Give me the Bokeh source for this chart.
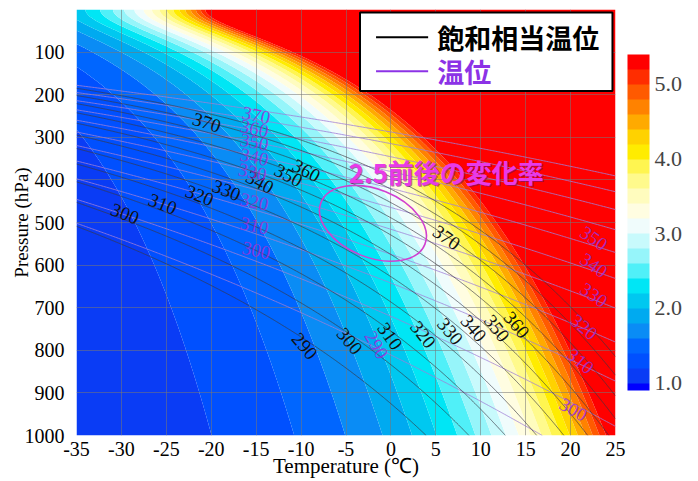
import numpy as np
from bokeh.plotting import figure
from bokeh.models import (Range1d, ColumnDataSource, LinearColorMapper, ColorBar,
                          FixedTicker, NumeralTickFormatter)
from bokeh.core.properties import value
from bokeh.embed import file_html
from bokeh.resources import INLINE

# ---------------- data ----------------
X_TICKS = [-35, -30, -25, -20, -15, -10, -5, 0, 5, 10, 15, 20, 25]
Y_TICKS = [100, 200, 300, 400, 500, 600, 700, 800, 900, 1000]
CBAR_TICKS = [1.0, 2.0, 3.0, 4.0, 5.0]
FILL_LEVELS = [1.0, 1.2, 1.4, 1.6, 1.8, 2.0, 2.2, 2.4, 2.6, 2.8, 3.0,
               3.2, 3.4, 3.6, 3.8, 4.0, 4.2, 4.4, 4.6, 4.8, 5.0, 5.2]
THETAE_LEVELS = [290, 300, 310, 320, 330, 340, 350, 360, 370, 380, 390]
THETA_LEVELS = [290, 300, 310, 320, 330, 340, 350, 360, 370, 380, 390]

black_lab_text = ["300", "310", "320", "330", "340", "350", "360", "370",
                  "290", "300", "310", "320", "330", "340", "350", "360", "370"]
black_lab_T = [-29.6, -25.4, -21.3, -18.3, -14.6, -11.4, -9.4, -20.5,
               -9.6, -4.6, -0.1, 3.6, 6.6, 9.2, 11.8, 14.0, 6.2]
black_lab_p = [479, 456, 436, 424, 405, 389, 378, 265,
               790, 778, 767, 763, 755, 748, 748, 740, 535]
black_lab_ang = [-22, -22, -22, -22, -28, -28, -28, -18,
                 -50, -50, -55, -52, -50, -50, -52, -50, -35]

purple_lab_text = ["370", "360", "350", "340", "330", "320", "310", "300",
                   "290", "350", "340", "330", "320", "310", "300"]
purple_lab_T = [-15.0, -15.2, -15.2, -15.2, -15.4, -15.2, -15.2, -15.0,
                -1.6, 22.6, 22.6, 22.6, 21.5, 21.1, 20.3]
purple_lab_p = [248, 279, 311, 346, 381, 451, 507, 565,
                787, 537, 600, 670, 745, 825, 939]
purple_lab_ang = [-12, -12, -12, -12, -12, -12, -12, -12,
                  -60, -35, -35, -35, -40, -40, -30]

ellipse_T = [-2.0]
ellipse_p = [502]

LEGEND_LABELS = ["飽和相当温位", "温位"]
NOTE_TEXT = "2.5前後の変化率"

# physical constants
KAPPA, LV, CP, RV, EPS = 0.2857, 2.5e6, 1004.0, 461.5, 0.622
P_SCALE, P_FLOOR = 0.85, 55.0

# ---------------- fields ----------------
T_axis = np.linspace(-35, 25, 361)
P_axis = np.linspace(0, 1000, 401)
TT, PP = np.meshgrid(T_axis, P_axis)
Tk = TT + 273.15
es = 6.112 * np.exp(17.67 * TT / (TT + 243.5))
dlnes = 17.67 * 243.5 / (TT + 243.5) ** 2

Peff = P_SCALE * np.sqrt(PP ** 2 + P_FLOOR ** 2)
den = np.maximum(Peff - es, 1e-3)
r = EPS * es / den
drdT = r * dlnes * Peff / den
drT = drdT / Tk - r / Tk ** 2
ratio = np.exp(LV / CP * r / Tk) * (1 + LV / CP * Tk * drT)
ratio = np.clip(np.nan_to_num(ratio, nan=50.0), 0.5, 50.0)

Pt = np.maximum(PP, 0.5)
den2 = Pt - es
theta = Tk * (1000.0 / Pt) ** KAPPA
r2 = EPS * es / np.maximum(den2, 1e-3)
thetae = theta * np.exp(np.minimum(LV / CP * r2 / Tk, 5.0))
thetae = np.where(den2 > 1e-3, thetae, 5000.0)
thetae = np.clip(thetae, 0, 5000.0)
theta = np.clip(theta, 0, 5000.0)

PALETTE = ["#0000ff", "#0a3cf5", "#0050ff", "#0066ff", "#0a8cf5", "#00aaf0",
           "#00c8f0", "#00e6f5", "#50f0f8", "#96f5fa", "#c8fafc", "#f0fcfc",
           "#fffde1", "#fffcbe", "#fffa8c", "#fff550", "#ffec00", "#ffd200",
           "#ffaa00", "#ff8200", "#ff5a00", "#ff2d00", "#ff0000"]
# colour bar palette in 0.1 steps from 0.9 to 5.4 (same bands as the fill)
CB_PALETTE = [PALETTE[0]] + [c for c in PALETTE[1:] for _ in (0, 1)]

# ---------------- figure ----------------
SERIF = "Liberation Serif"
CJK = "Noto Sans CJK JP"

p = figure(width=697, height=480, output_backend="svg", toolbar_location=None,
           x_range=Range1d(-35, 25), y_range=Range1d(1000, 0),
           min_border_left=76, min_border_right=82, min_border_top=9, min_border_bottom=30)
p.outline_line_color = None

levels_all = [-10.0] + FILL_LEVELS + [1000.0]
cf = p.contour(T_axis, P_axis, ratio, levels_all, fill_color=PALETTE, line_color=None)
cf.level = "image"

p.contour(T_axis, P_axis, theta, THETA_LEVELS, line_color="#a080d8", line_width=0.9, line_alpha=0.9)
p.contour(T_axis, P_axis, thetae, THETAE_LEVELS, line_color="#3a3a44", line_width=0.85, line_alpha=0.8)

# grid / axes
p.xaxis.ticker = FixedTicker(ticks=X_TICKS)
p.yaxis.ticker = FixedTicker(ticks=Y_TICKS)
p.xaxis.major_label_overrides = {t: str(t) for t in X_TICKS}
p.grid.grid_line_color = "#777777"
p.grid.grid_line_width = 0.8
p.grid.grid_line_alpha = 0.7

for ax in (p.xaxis[0], p.yaxis[0]):
    ax.major_label_text_font = SERIF
    ax.major_label_text_font_size = "20px"
    ax.major_label_text_color = "black"
    ax.axis_label_text_font = SERIF
    ax.axis_label_text_font_style = "normal"
    ax.axis_label_text_color = "black"
    ax.major_tick_line_color = None
    ax.minor_tick_line_color = None
    ax.axis_line_color = None
p.xaxis.axis_label = "Temperature (℃)"
p.yaxis.axis_label = "Pressure (hPa)"
p.xaxis.axis_label_text_font_size = "21px"
p.yaxis.axis_label_text_font_size = "19px"
p.xaxis.major_label_standoff = 0
p.xaxis.axis_label_standoff = -5
p.yaxis.major_label_standoff = 6
p.yaxis.axis_label_standoff = -10

# contour labels
bsrc = ColumnDataSource(dict(x=black_lab_T, y=black_lab_p, t=black_lab_text, a=black_lab_ang))
p.text(x="x", y="y", text="t", angle="a", angle_units="deg", source=bsrc,
       text_font=value(SERIF), text_font_size="19px", text_color="#111111",
       text_align="center", text_baseline="middle")
psrc = ColumnDataSource(dict(x=purple_lab_T, y=purple_lab_p, t=purple_lab_text, a=purple_lab_ang))
p.text(x="x", y="y", text="t", angle="a", angle_units="deg", source=psrc,
       text_font=value(SERIF), text_font_size="19px", text_color="#9a30d8", text_alpha=0.85,
       text_align="center", text_baseline="middle")

# ellipse
p.ellipse(x=ellipse_T, y=ellipse_p, width=112, height=68, angle=-22, angle_units="deg",
          width_units="screen", height_units="screen",
          fill_color=None, line_color="#d040d0", line_width=1.6)

# layout helpers (reference pixel -> data) for annotations
def px_T(x):
    return (x - 77) / 8.967 - 35
def px_p(y):
    return (y - 10) / 0.428

# annotation text
p.text(x=[px_T(447)], y=[px_p(174)], text=[NOTE_TEXT], text_font=value(CJK),
       text_font_size="26px", text_font_style="bold", text_color="#701070", text_alpha=0.6,
       text_align="center", text_baseline="middle")
p.text(x=[px_T(446)], y=[px_p(173)], text=[NOTE_TEXT], text_font=value(CJK),
       text_font_size="26px", text_font_style="bold", text_color="#e83ae8",
       text_align="center", text_baseline="middle")

# legend box (drawn as glyphs so the order is kept)
p.quad(left=[px_T(360)], right=[px_T(612)], top=[px_p(13)], bottom=[px_p(92)],
       fill_color="white", line_color="black", line_width=2)
p.line(x=[px_T(376), px_T(428)], y=[px_p(38), px_p(38)], line_color="black", line_width=2)
p.line(x=[px_T(376), px_T(428)], y=[px_p(72), px_p(72)], line_color="#8c32e6", line_width=2)
p.text(x=[px_T(437)], y=[px_p(38)], text=[LEGEND_LABELS[0]], text_font=value(CJK),
       text_font_size="27px", text_font_style="bold", text_color="black",
       text_align="left", text_baseline="middle")
p.text(x=[px_T(437)], y=[px_p(72)], text=[LEGEND_LABELS[1]], text_font=value(CJK),
       text_font_size="27px", text_font_style="bold", text_color="#8c32e6",
       text_align="left", text_baseline="middle")

# color bar
mapper = LinearColorMapper(palette=CB_PALETTE, low=0.9, high=5.4)
cb = ColorBar(color_mapper=mapper, ticker=FixedTicker(ticks=CBAR_TICKS),
              formatter=NumeralTickFormatter(format="0.0"),
              width=22, height=336, padding=12, margin=0, location="center",
              major_label_text_font=SERIF, major_label_text_font_size="22px",
              major_tick_line_color=None, minor_tick_line_color=None,
              bar_line_color=None, border_line_color=None, background_fill_color=None,
              label_standoff=5)
p.add_layout(cb, "right")

open("out.html", "w").write(file_html(p, INLINE))
